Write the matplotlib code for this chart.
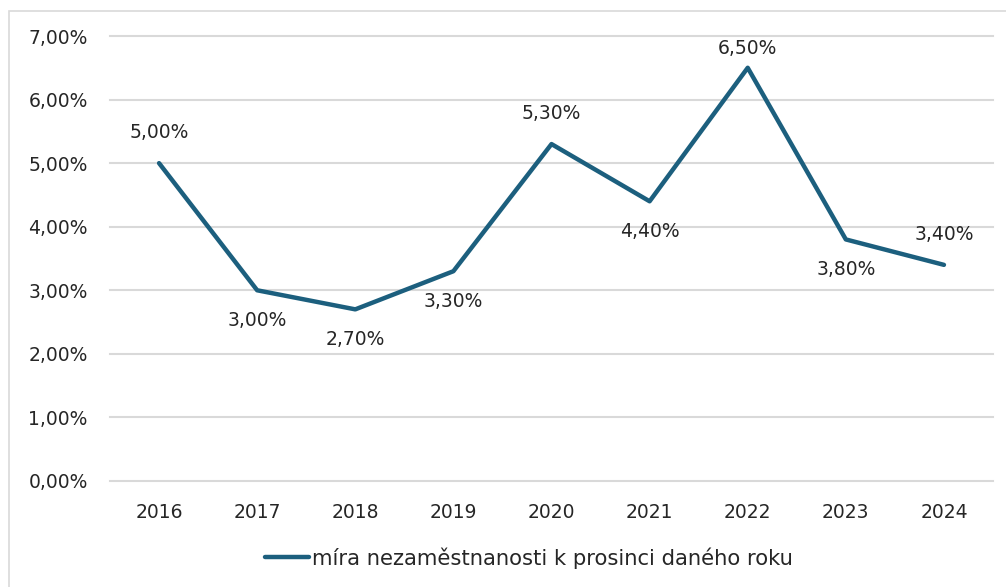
import matplotlib
matplotlib.use("Agg")
import matplotlib.pyplot as plt
from matplotlib.patches import Rectangle
from matplotlib.ticker import FuncFormatter

years = ["2016", "2017", "2018", "2019", "2020", "2021", "2022", "2023", "2024"]
rate = [5.0, 3.0, 2.7, 3.3, 5.3, 4.4, 6.5, 3.8, 3.4]
label_side = [1, -1, -1, -1, 1, -1, 1, -1, 1]  # 1 = above, -1 = below
series_name = "míra nezaměstnanosti k prosinci daného roku"

line_color = "#1C5F7E"
grid_color = "#D9D9D9"
text_color = "#262626"

plt.rcParams["font.family"] = ["DejaVu Sans"]
fs = 13.5

fig = plt.figure(figsize=(10.06, 5.87), dpi=100)
# outer chart border (cut at right/bottom like the screenshot)
fig.patches.append(Rectangle((9 / 1006, -0.1), 1.2, 1 - 11 / 587 + 0.1,
                             transform=fig.transFigure, fill=False,
                             edgecolor=grid_color, lw=1.2))

ax = fig.add_axes([110 / 1006, 1 - 481 / 587, 883 / 1006, (481 - 36) / 587])
x = list(range(len(years)))
ax.plot(x, rate, color=line_color, lw=3.2, solid_joinstyle="round",
        solid_capstyle="round", label=series_name, zorder=3)

for xi, v, s in zip(x, rate, label_side):
    off = 22 * s
    if v > 6.2:  # label near the top gets squeezed down like in Excel
        off = 14
    ax.annotate(f"{v:.2f}%".replace(".", ","), (xi, v), xytext=(0, off),
                textcoords="offset points", ha="center", va="center",
                fontsize=fs, color=text_color)

ax.set_xlim(-0.5, len(years) - 0.5)
ax.set_ylim(0, 7)
ax.set_yticks(range(0, 8))
ax.yaxis.set_major_formatter(FuncFormatter(lambda v, p: f"{v:.2f}%".replace(".", ",")))
ax.set_xticks(x)
ax.set_xticklabels(years)
ax.tick_params(axis="both", length=0, labelsize=fs, labelcolor=text_color)
ax.tick_params(axis="y", pad=16)
ax.tick_params(axis="x", pad=16)
ax.grid(axis="y", color=grid_color, lw=1.5)
for gl in ax.get_ygridlines():
    gl.set_clip_on(False)
ax.set_axisbelow(True)
for sp in ax.spines.values():
    sp.set_visible(False)

fig.legend(loc="center", bbox_to_anchor=(529 / 1006, 1 - 558 / 587), frameon=False,
           prop={"family": "DejaVu Sans", "size": 15.2}, handlelength=2.1,
           handletextpad=0.12, labelcolor=text_color)

fig.savefig("out.png", dpi=100)
